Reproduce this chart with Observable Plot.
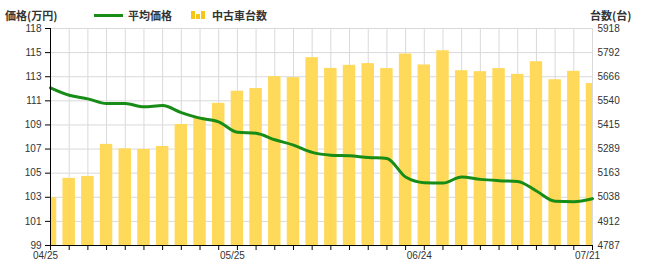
<!DOCTYPE html>
<html><head><meta charset="utf-8">
<script src="https://cdn.jsdelivr.net/npm/d3@7"></script>
<script src="https://cdn.jsdelivr.net/npm/@observablehq/plot@0.6"></script>
<style>
body{margin:0;background:#fff;}
#wrap{width:646px;height:270px;position:relative;overflow:hidden;}
#hdr{position:relative;height:22px;font-family:"Noto Sans CJK JP",sans-serif;font-weight:bold;font-size:11px;color:#333;}
#hdr span{position:absolute;top:8px;line-height:14px;white-space:nowrap;}
#hdr .ln{position:absolute;left:94px;top:14px;width:29px;height:3px;background:#178c17;}
#hdr .ic{position:absolute;top:11px;background:#f5c518;width:4px;}
</style></head><body>
<div id="wrap">
  <div id="hdr">
    <span style="left:5px">価格(万円)</span>
    <div class="ln"></div>
    <span style="left:128px">平均価格</span>
    <div class="ic" style="left:191px;top:11px;height:8px"></div>
    <div class="ic" style="left:196px;top:14px;height:5px"></div>
    <div class="ic" style="left:201px;top:11px;height:8px"></div>
    <span style="left:212px">中古車台数</span>
    <span style="left:590px">台数(台)</span>
  </div>
  <div id="chart"></div>
</div>
<script>
const dates = ["04/25","04/28","05/01","05/04","05/07","05/10","05/13","05/16","05/19","05/22",
               "05/25","05/28","05/31","06/03","06/06","06/09","06/12","06/15","06/18","06/21",
               "06/24","06/27","06/30","07/03","07/06","07/09","07/12","07/15","07/18","07/21"];
const avgPrice = [112.8,112.15,111.84,111.43,111.43,111.14,111.25,110.64,110.15,109.83,
                  108.92,108.83,108.26,107.79,107.15,106.91,106.86,106.71,106.62,104.99,
                  104.5,104.47,105.0,104.79,104.68,104.61,103.77,102.87,102.84,103.1];
const carCount = [5036,5137,5147,5314,5291,5288,5303,5418,5452,5528,
                  5591,5605,5667,5662,5766,5710,5726,5735,5709,5785,
                  5728,5802,5698,5693,5709,5679,5745,5651,5695,5631];
const priceTickLabels = ["99","101","103","105","107","109","111","113","115","118"];
const countTickLabels = ["4787","4912","5038","5163","5289","5415","5540","5666","5792","5918"];
const xTickLabels = ["04/25","05/25","06/24","07/21"];
const priceMin = 99, priceMax = 118, countMin = 4787, countMax = 5918;

const parse = d3.utcParse("%Y/%m/%d");
const toDate = s => parse("2024/" + s);
const rows = dates.map((s, i) => ({date: toDate(s), price: avgPrice[i], count: carCount[i]}));
const nT = priceTickLabels.length - 1;
const step = (priceMax - priceMin) / nT;
const yTicks = d3.range(nT + 1).map(i => priceMin + i * step);
const idx = v => Math.round((v - priceMin) / step);
const toY = c => priceMin + (c - countMin) / (countMax - countMin) * (priceMax - priceMin);
const xDates = rows.map(r => r.date);
const labelDates = xTickLabels.map(toDate);
const off = (d, k) => d3.utcDay.offset(d, k);
const grid = "#d9d9d9";

const chart = Plot.plot({
  width: 646, height: 248,
  marginTop: 6, marginBottom: 25, marginLeft: 50, marginRight: 54,
  style: {fontFamily: "'Liberation Sans', Arial, sans-serif", fontSize: "10px", background: "#fff"},
  x: {type: "utc", domain: [xDates[0], xDates[xDates.length - 1]], axis: null},
  y: {domain: [priceMin, priceMax], axis: null},
  marks: [
    Plot.gridY(yTicks, {stroke: grid, strokeOpacity: 1}),
    Plot.gridX(xDates, {stroke: grid, strokeOpacity: 1}),
    Plot.rectY(rows, {x1: d => off(d.date, -1), x2: d => off(d.date, 1), y1: priceMin, y2: d => toY(d.count), fill: "#ffd95a", clip: true}),
    Plot.line(rows, {x: "date", y: "price", stroke: "#178c17", strokeWidth: 3, curve: "monotone-x"}),
    Plot.ruleX([xDates[0]], {stroke: "#000"}),
    Plot.ruleY([priceMin], {stroke: "#000"}),
    Plot.axisY(yTicks, {anchor: "left", label: null, tickSize: 5, tickPadding: 4, stroke: "#000", fill: "#333", tickFormat: v => priceTickLabels[idx(v)]}),
    Plot.axisY(yTicks, {anchor: "right", label: null, tickSize: 0, tickPadding: 5, fill: "#333", tickFormat: v => countTickLabels[idx(v)]}),
    Plot.axisX(xDates, {anchor: "bottom", label: null, tickSize: 5, stroke: "#000", tickFormat: () => ""}),
    Plot.axisX(labelDates, {anchor: "bottom", label: null, tickSize: 0, tickPadding: 6, dx: -5, fill: "#333", tickFormat: d => d3.utcFormat("%m/%d")(d)})
  ]
});
document.getElementById("chart").appendChild(chart);
</script>
</body></html>
